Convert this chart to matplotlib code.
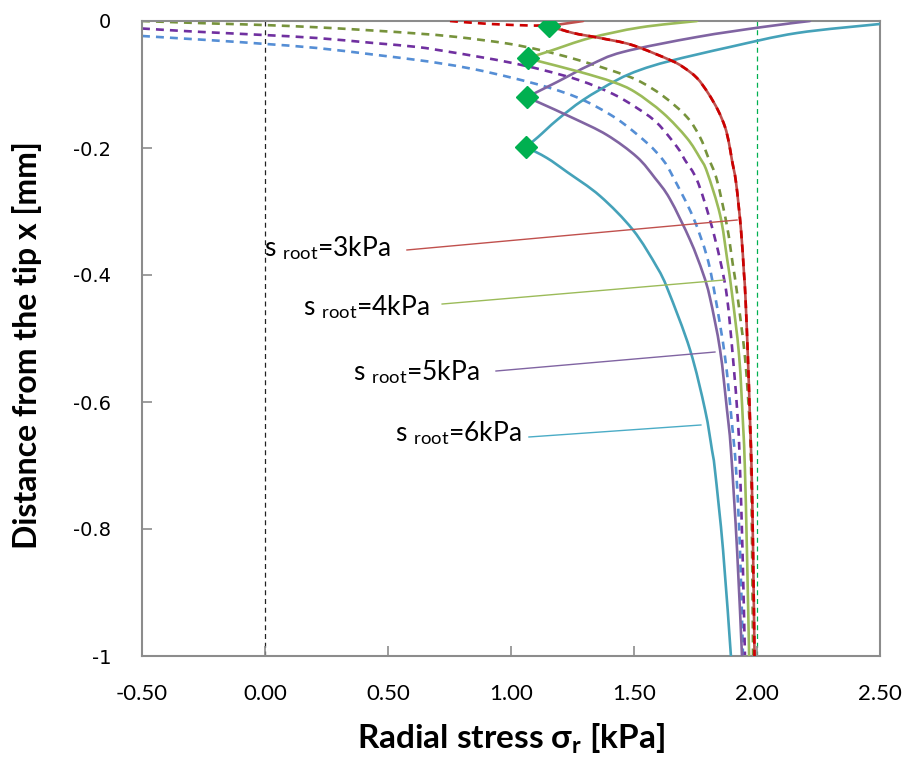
import matplotlib
matplotlib.use("Agg")
import matplotlib.pyplot as plt
from matplotlib.path import Path
from matplotlib.patches import PathPatch

plt.rcParams["axes.unicode_minus"] = False
plt.rcParams["mathtext.fontset"] = "custom"
plt.rcParams["mathtext.rm"] = "Lato"
plt.rcParams["mathtext.it"] = "Lato:italic"
plt.rcParams["mathtext.bf"] = "Lato:bold"

# ---- data: radial stress [kPa] vs. distance from the tip [mm] ----
# s_root = 3 kPa
red_dash_x = [0.752, 0.915, 1.077, 1.154, 1.252, 1.362, 1.492, 1.646, 1.699, 1.756, 1.801,
              1.841, 1.870, 1.886, 1.898, 1.915, 1.935, 1.947, 1.953, 1.963, 1.972, 1.978,
              1.984, 1.990]
red_dash_y = [0.0, -0.0047, -0.0071, -0.0079, -0.0189, -0.0268, -0.0378, -0.0614, -0.0724,
              -0.0898, -0.1134, -0.1402, -0.1669, -0.1921, -0.2189, -0.2551, -0.3291, -0.3969,
              -0.4346, -0.5291, -0.6331, -0.7071, -0.8331, -1.0]
red_up_x = [1.154, 1.293]
red_up_y = [-0.0079, 0.0]
red_low_x = [1.154, 1.252, 1.362, 1.492, 1.646, 1.699, 1.756, 1.801, 1.841, 1.870, 1.886,
             1.898, 1.915, 1.935, 1.947, 1.953, 1.963, 1.972, 1.978, 1.984, 1.990]
red_low_y = [-0.0079, -0.0189, -0.0268, -0.0378, -0.0614, -0.0724, -0.0898, -0.1134, -0.1402,
             -0.1669, -0.1921, -0.2189, -0.2551, -0.3291, -0.3969, -0.4346, -0.5291, -0.6331,
             -0.7071, -0.8331, -1.0]

# s_root = 4 kPa
grn_dash_x = [-0.5, -0.333, -0.171, -0.008, 0.211, 0.439, 0.618, 0.781, 0.984, 1.118, 1.252,
              1.390, 1.512, 1.618, 1.715, 1.768, 1.801, 1.837, 1.878, 1.902, 1.919, 1.951,
              1.970, 1.976, 1.980, 1.984]
grn_dash_y = [0.0, -0.0024, -0.0044, -0.0063, -0.0099, -0.0150, -0.0197, -0.0252, -0.0354,
              -0.0457, -0.0591, -0.0756, -0.0929, -0.1181, -0.1512, -0.1827, -0.2142, -0.2504,
              -0.3228, -0.3843, -0.4283, -0.5291, -0.6331, -0.7071, -0.8331, -1.0]
grn_up_x = [1.069, 1.159, 1.321, 1.524, 1.756]
grn_up_y = [-0.0583, -0.0472, -0.0268, -0.0102, 0.0]
grn_low_x = [1.069, 1.118, 1.281, 1.415, 1.504, 1.618, 1.715, 1.768, 1.797, 1.850, 1.878,
             1.898, 1.927, 1.943, 1.951, 1.959, 1.968]
grn_low_y = [-0.0583, -0.0638, -0.0803, -0.0961, -0.1118, -0.1449, -0.1843, -0.2157, -0.2378,
             -0.3055, -0.3732, -0.4283, -0.5260, -0.6331, -0.7071, -0.8331, -1.0]

# s_root = 5 kPa
pur_dash_x = [-0.5, -0.333, -0.171, -0.008, 0.211, 0.439, 0.618, 0.740, 0.874, 0.996, 1.130,
              1.281, 1.415, 1.512, 1.594, 1.675, 1.707, 1.756, 1.809, 1.850, 1.878, 1.902,
              1.923, 1.931, 1.941, 1.951]
pur_dash_y = [-0.0118, -0.0157, -0.0189, -0.0220, -0.0268, -0.0346, -0.0409, -0.0480, -0.0567,
              -0.0654, -0.0772, -0.0937, -0.1150, -0.1370, -0.1606, -0.1984, -0.2189, -0.2504,
              -0.3134, -0.3764, -0.4346, -0.5291, -0.6331, -0.7071, -0.8331, -1.0]
pur_up_x = [1.065, 1.187, 1.321, 1.455, 1.756, 2.024, 2.215]
pur_up_y = [-0.1197, -0.0961, -0.0693, -0.0488, -0.0252, -0.0094, 0.0]
pur_low_x = [1.065, 1.118, 1.252, 1.390, 1.512, 1.585, 1.646, 1.728, 1.780, 1.809, 1.850,
             1.878, 1.894, 1.919, 1.939]
pur_low_y = [-0.1197, -0.1291, -0.1528, -0.1795, -0.2142, -0.2472, -0.2803, -0.3449, -0.3969,
             -0.4362, -0.5181, -0.6126, -0.6756, -0.8331, -1.0]

# s_root = 6 kPa
blu_dash_x = [-0.5, -0.317, -0.171, -0.008, 0.211, 0.439, 0.618, 0.711, 0.846, 1.008, 1.159,
              1.293, 1.431, 1.553, 1.618, 1.659, 1.740, 1.797, 1.829, 1.870, 1.898, 1.915,
              1.931, 1.943]
blu_dash_y = [-0.0236, -0.0280, -0.0315, -0.0359, -0.0425, -0.0528, -0.0614, -0.0666, -0.0756,
              -0.0898, -0.1055, -0.1244, -0.1543, -0.1921, -0.2189, -0.2457, -0.3087, -0.3717,
              -0.4315, -0.5291, -0.6331, -0.7071, -0.8331, -1.0]
tea_up_x = [1.061, 1.110, 1.187, 1.293, 1.431, 1.524, 1.646, 1.890, 2.163, 2.5]
tea_up_y = [-0.1984, -0.1827, -0.1559, -0.1244, -0.0929, -0.0772, -0.0630, -0.0409, -0.0189,
            -0.0047]
tea_low_x = [1.061, 1.146, 1.228, 1.362, 1.496, 1.593, 1.638, 1.728, 1.789, 1.817, 1.829,
             1.862, 1.894]
tea_low_y = [-0.1984, -0.2157, -0.2378, -0.2756, -0.3291, -0.3874, -0.4236, -0.5181, -0.6126,
             -0.6756, -0.7071, -0.8331, -1.0]

# tip positions (green diamonds)
tip_x = [1.154, 1.069, 1.065, 1.061]
tip_y = [-0.0079, -0.0583, -0.1197, -0.1984]

# curve annotations
labels = ["3kPa", "4kPa", "5kPa", "6kPa"]
label_x = [-0.004, 0.154, 0.358, 0.528]
label_y = [-0.357, -0.450, -0.553, -0.649]
leader_x0 = [0.577, 0.720, 0.939, 1.073]
leader_y0 = [-0.3606, -0.4457, -0.5512, -0.6551]
leader_x1 = [1.919, 1.866, 1.829, 1.772]
leader_y1 = [-0.3134, -0.4079, -0.5213, -0.6362]
leader_colors = ["#C0504D", "#9BBB59", "#8064A2", "#4BACC6"]

x_ticks = [-0.5, 0.0, 0.5, 1.0, 1.5, 2.0, 2.5]
y_ticks = [0, -0.2, -0.4, -0.6, -0.8, -1]
y_tick_labels = ["0", "-0.2", "-0.4", "-0.6", "-0.8", "-1"]


def smooth_line(ax, xs, ys, **kw):
    """Draw a smoothed (Catmull-Rom style Bezier) line through the points."""
    n = len(xs)
    pts = list(zip(xs, ys))
    verts = [pts[0]]
    codes = [Path.MOVETO]
    for i in range(n - 1):
        p0 = pts[i - 1] if i > 0 else pts[i]
        p1 = pts[i]
        p2 = pts[i + 1]
        p3 = pts[i + 2] if i + 2 < n else pts[i + 1]
        c1 = (p1[0] + (p2[0] - p0[0]) / 6.0, p1[1] + (p2[1] - p0[1]) / 6.0)
        c2 = (p2[0] - (p3[0] - p1[0]) / 6.0, p2[1] - (p3[1] - p1[1]) / 6.0)
        verts += [c1, c2, p2]
        codes += [Path.CURVE4] * 3
    patch = PathPatch(Path(verts, codes), fill=False, **kw)
    ax.add_patch(patch)
    return patch


# ---- figure ----
fig = plt.figure(figsize=(9.06, 7.66), dpi=100)
ax = fig.add_axes([142 / 906, 1 - 656 / 766, 738 / 906, 635 / 766])

LW = 1.9
DASH = (0, (3.0, 2.3))

# reference lines
ax.plot([0, 0], [0, -1], color="#222222", lw=0.9, ls=(0, (4, 3)), zorder=1)
ax.plot([2.0, 2.0], [0, -1], color="#00B050", lw=0.9, ls=(0, (4, 3)), zorder=1)

# dashed curves
smooth_line(ax, blu_dash_x, blu_dash_y, edgecolor="#558ED5", lw=LW, ls=DASH, zorder=2)
smooth_line(ax, pur_dash_x, pur_dash_y, edgecolor="#7030A0", lw=LW, ls=DASH, zorder=2)
smooth_line(ax, grn_dash_x, grn_dash_y, edgecolor="#77933C", lw=LW, ls=DASH, zorder=2)

# solid curves
for xs, ys, c in [(tea_up_x, tea_up_y, "#45A2B9"), (tea_low_x, tea_low_y, "#45A2B9"),
                  (pur_up_x, pur_up_y, "#8064A2"), (pur_low_x, pur_low_y, "#8064A2"),
                  (grn_up_x, grn_up_y, "#9BBB59"), (grn_low_x, grn_low_y, "#9BBB59"),
                  (red_up_x, red_up_y, "#C0504D"), (red_low_x, red_low_y, "#C0504D")]:
    smooth_line(ax, xs, ys, edgecolor=c, lw=LW, zorder=3, capstyle="round")
smooth_line(ax, red_dash_x, red_dash_y, edgecolor="#CC0000", lw=LW, ls=DASH, zorder=4)

ax.plot(tip_x, tip_y, ls="none", marker="D", ms=11, color="#00B050", zorder=5)

# annotations
for lab, tx, ty, x0, y0, x1, y1, c in zip(labels, label_x, label_y, leader_x0, leader_y0,
                                          leader_x1, leader_y1, leader_colors):
    ax.text(tx, ty, "s $_{\\mathrm{root}}$=" + lab, fontsize=19, family="Lato",
            ha="left", va="center", color="#000000", zorder=6)
    ax.plot([x0, x1], [y0, y1], color=c, lw=1.0, zorder=6)

ax.set_xlim(-0.5, 2.5)
ax.set_ylim(-1, 0)
ax.set_xticks(x_ticks)
ax.set_xticklabels([f"{v:.2f}" for v in x_ticks], family="Lato", fontsize=16)
ax.set_yticks(y_ticks)
ax.set_yticklabels(y_tick_labels, family="DejaVu Sans", fontsize=14)
ax.tick_params(axis="x", direction="in", length=7, width=1.2, color="#8C8C8C", pad=20)
ax.tick_params(axis="y", direction="in", length=7, width=1.2, color="#8C8C8C", pad=22)

for sp in ax.spines.values():
    sp.set_color("#8C8C8C")
    sp.set_linewidth(1.5)

ax.set_xlabel("Radial stress σ$_{\\mathbf{r}}$ [kPa]", family=["Lato", "DejaVu Sans"],
              fontsize=24, fontweight="bold", labelpad=13)
ax.set_ylabel("Distance from the tip x [mm]", family="Lato", fontsize=23,
              fontweight="bold", labelpad=18)
ax.yaxis.set_label_coords(-0.135, 0.49)

fig.savefig("out.png", dpi=100)
